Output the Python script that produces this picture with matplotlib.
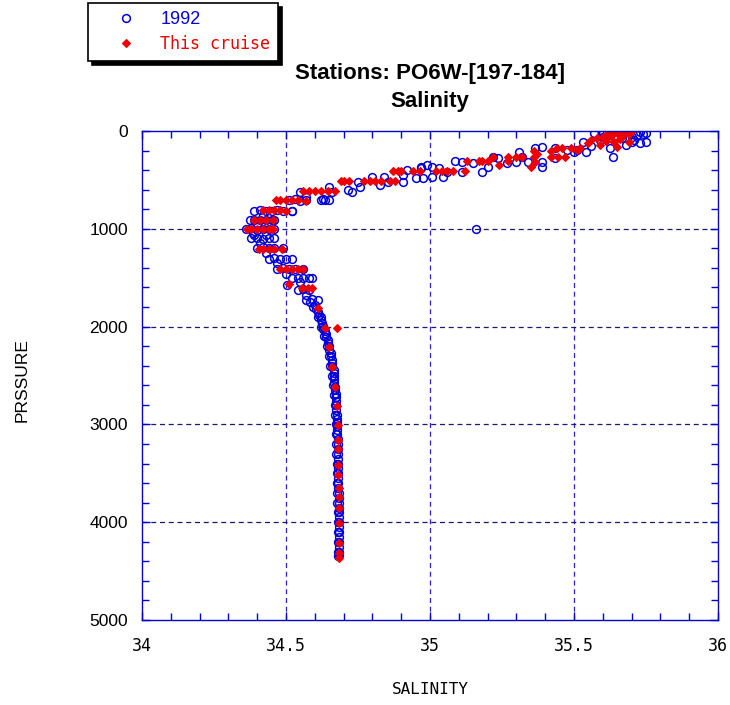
import matplotlib.pyplot as plt
from matplotlib.ticker import MultipleLocator

# 1992 occupation, upper ocean (pressure, salinity)
pres92_upper = [24, 24, 30, 41, 45, 50, 60, 75, 92, 92, 109, 109, 110, 126, 140, 150,
                177, 269, 211, 211, 194, 194, 177, 279, 160, 177, 314, 365,
                211, 262, 314, 314, 324, 279, 262, 365, 416, 331, 307, 314,
                416, 416, 375, 467, 365, 467, 365, 484, 382, 484, 348, 399,
                450, 518, 467, 518, 552, 467, 518, 569, 603, 620, 569, 620,
                705, 705, 672, 620, 815, 15, 35, 60, 20]
sal92_upper = [35.57, 35.75, 35.67, 35.72, 35.62, 35.64, 35.60, 35.666, 35.59, 35.71, 35.53, 35.75, 35.70, 35.73, 35.68, 35.56,
               35.625, 35.635, 35.50, 35.54, 35.475, 35.51, 35.434, 35.434, 35.39, 35.365, 35.39, 35.39,
               35.31, 35.32, 35.34, 35.30, 35.266, 35.236, 35.22, 35.20, 35.18, 35.15, 35.087, 35.11,
               35.11, 35.06, 35.03, 35.045, 35.006, 35.006, 34.97, 34.976, 34.97, 34.95, 34.99, 34.92,
               34.906, 34.906, 34.84, 34.855, 34.826, 34.80, 34.75, 34.757, 34.715, 34.73, 34.65, 34.66,
               34.62, 34.635, 34.57, 34.55, 34.52, 35.73, 35.74, 35.70, 35.60]

# 1992 occupation, intermediate water
pres92_mid = [706, 700, 712, 706, 698, 706,
              815, 808, 820, 815, 810, 818, 815,
              910, 905, 915, 910, 906, 912,
              1002, 996, 1008, 1002, 998, 1005,
              1060, 1066, 1097, 1092, 1100, 1097, 1094,
              1196, 1190, 1200, 1196, 1192,
              1308, 1300, 1312, 1308, 1304,
              1411, 1405, 1415, 1411, 1408,
              1503, 1498, 1506, 1503, 1500,
              1575, 1626, 1620, 1630, 1728, 1722, 1732, 1000,
              860, 955, 1040, 1150, 1250, 1350, 1460, 1540, 1680]
sal92_mid = [34.51, 34.53, 34.55, 34.57, 34.63, 34.65,
             34.39, 34.41, 34.43, 34.45, 34.47, 34.49, 34.52,
             34.375, 34.39, 34.41, 34.43, 34.45, 34.46,
             34.36, 34.38, 34.40, 34.42, 34.44, 34.46,
             34.39, 34.43, 34.38, 34.40, 34.42, 34.44, 34.46,
             34.40, 34.42, 34.44, 34.46, 34.49,
             34.44, 34.46, 34.48, 34.50, 34.52,
             34.47, 34.49, 34.51, 34.53, 34.56,
             34.52, 34.54, 34.56, 34.58, 34.59,
             34.505, 34.54, 34.56, 34.58, 34.57, 34.59, 34.61, 35.16,
             34.42, 34.40, 34.385, 34.41, 34.43, 34.47, 34.50, 34.55, 34.57]

# 1992 occupation, deep water
pres92_deep = [1750, 1780, 1820, 1850, 1880, 1900, 1930, 1960, 1990, 2020, 2050, 2080,
               2110, 2140, 2170, 2200, 2240, 2270, 2300, 2340, 2370, 2400, 2440, 2470,
               2500, 2540, 2580, 2620, 2650, 2690, 2720, 2760, 2800, 2850, 2900, 2940,
               2980, 3020, 3060, 3100, 3150, 3200, 3250, 3300, 3350, 3400, 3450, 3500,
               3550, 3600, 3650, 3700, 3750, 3800, 3850, 3900, 3950, 4000, 4050, 4100,
               4150, 4200, 4250, 4300, 4340,
               1800, 1900, 2000, 2100, 2200, 2300, 2400, 2500, 2600, 2700, 2800, 2900,
               3000, 3100, 3200, 3300, 3400, 3500, 3600, 3700, 3800, 3900, 4000, 4100,
               4200, 4300, 4350]
sal92_deep = [34.585, 34.60, 34.605, 34.61, 34.615, 34.62, 34.62, 34.625, 34.63, 34.63, 34.635, 34.64,
              34.64, 34.645, 34.645, 34.65, 34.65, 34.655, 34.655, 34.66, 34.66, 34.66, 34.665, 34.665,
              34.665, 34.667, 34.668, 34.67, 34.67, 34.672, 34.672, 34.674, 34.675, 34.675, 34.676, 34.676,
              34.677, 34.678, 34.678, 34.678, 34.679, 34.679, 34.68, 34.68, 34.68, 34.681, 34.681, 34.681,
              34.682, 34.682, 34.682, 34.683, 34.683, 34.683, 34.683, 34.684, 34.684, 34.684, 34.684, 34.684,
              34.685, 34.685, 34.685, 34.685, 34.685,
              34.595, 34.61, 34.622, 34.632, 34.642, 34.649, 34.654, 34.659, 34.663, 34.666, 34.669, 34.671,
              34.672, 34.673, 34.674, 34.675, 34.676, 34.677, 34.677, 34.678, 34.678, 34.679, 34.679, 34.68,
              34.68, 34.68, 34.68]

# this cruise, bottle data
pres_cr = [0, 0, 0, 0, 10, 25, 30, 40, 45, 55, 60, 75, 80, 92, 100, 109, 110, 120, 140, 160,
           170, 177, 170, 170, 194, 204, 204, 238, 262, 262, 262, 262, 262, 262, 262, 262,
           307, 307, 307, 307, 307, 314, 348, 365,
           406, 406, 406, 406, 406, 406, 406, 406, 406, 406,
           511, 511, 511, 511, 511, 511, 511, 511, 511,
           610, 610, 610, 610, 610, 610,
           710, 710, 710, 710, 710, 712,
           812, 812, 812, 812, 815,
           913, 913, 913, 913,
           1005, 1005, 1005, 1005, 1005, 1005,
           1210, 1210, 1210, 1210, 1210,
           1411, 1411, 1411, 1411, 1411,
           1568, 1608, 1608, 1608, 1812, 2013, 2011, 2206, 2410, 2614, 2809, 3006,
           3160, 3252, 3415, 3517, 3650, 3739, 3855, 4008, 4213, 4315, 4366]
sal_cr = [35.64, 35.66, 35.68, 35.70, 35.62, 35.65, 35.69, 35.61, 35.67, 35.63, 35.60, 35.58, 35.66, 35.56, 35.61, 35.69, 35.64, 35.55, 35.59, 35.65,
          35.49, 35.52, 35.46, 35.44, 35.51, 35.36, 35.42, 35.37, 35.22, 35.27, 35.30, 35.32, 35.36, 35.42, 35.445, 35.47,
          35.13, 35.17, 35.18, 35.20, 35.27, 35.365, 35.24, 35.35,
          34.87, 34.89, 34.90, 34.94, 34.965, 35.02, 35.04, 35.06, 35.08, 35.12,
          34.69, 34.70, 34.72, 34.77, 34.79, 34.81, 34.83, 34.86, 34.88,
          34.56, 34.58, 34.60, 34.62, 34.645, 34.67,
          34.465, 34.48, 34.50, 34.52, 34.54, 34.57,
          34.42, 34.44, 34.46, 34.48, 34.50,
          34.39, 34.41, 34.43, 34.455,
          34.365, 34.38, 34.40, 34.42, 34.44, 34.455,
          34.405, 34.42, 34.44, 34.46, 34.485,
          34.48, 34.50, 34.52, 34.54, 34.56,
          34.51, 34.555, 34.575, 34.59, 34.612, 34.635, 34.677, 34.65, 34.66, 34.67, 34.676, 34.68,
          34.68, 34.68, 34.682, 34.682, 34.683, 34.683, 34.683, 34.683, 34.684, 34.684, 34.684]

W, H = 730, 705
fig = plt.figure(figsize=(W / 100, H / 100), dpi=100)
ax = fig.add_axes([142 / W, 1 - 620 / H, 576 / W, 489 / H])

ax.plot(sal92_upper + sal92_mid + sal92_deep, pres92_upper + pres92_mid + pres92_deep,
        linestyle='none', marker='o', ms=5.6, mfc='none', mec='#0000dd', mew=1.1, label='1992')
ax.plot(sal_cr, pres_cr, linestyle='none', marker='D', ms=4.4, mfc='#ee0000', mec='#ee0000',
        mew=0.8, label='This cruise')

ax.set_xlim(34, 36)
ax.set_ylim(5000, 0)
ax.xaxis.set_major_locator(MultipleLocator(0.5))
ax.xaxis.set_minor_locator(MultipleLocator(0.1))
ax.yaxis.set_major_locator(MultipleLocator(1000))
ax.yaxis.set_minor_locator(MultipleLocator(200))
ax.set_xticks([34, 34.5, 35, 35.5, 36], ['34', '34.5', '35', '35.5', '36'])

blue = '#0000cc'
for s in ax.spines.values():
    s.set_color(blue)
    s.set_linewidth(1.0)
ax.tick_params(which='both', direction='in', top=True, right=True, color=blue, width=1)
ax.tick_params(which='major', length=6)
ax.tick_params(which='minor', length=5)
ax.tick_params(axis='x', which='major', pad=12)
ax.tick_params(axis='y', which='major', pad=10)
for lab in ax.get_xticklabels():
    lab.set_family('DejaVu Sans Mono')
    lab.set_fontsize(12)
for lab in ax.get_yticklabels():
    lab.set_family('Liberation Sans')
    lab.set_fontsize(12.5)

for x in (34.5, 35, 35.5):
    ax.axvline(x, color='#2222dd', lw=0.9, ls=(0, (4, 3)), zorder=0)
for y in (1000, 2000, 3000, 4000):
    ax.axhline(y, color='#1a1a70', lw=0.9, ls=(0, (4, 3)), zorder=0)

fig.text(430 / W, 1 - 690 / H, 'SALINITY', ha='center', va='center',
         family='DejaVu Sans Mono', fontsize=11.5)
fig.text(22 / W, 1 - 380 / H, 'PRSSURE', ha='center', va='center', rotation=90,
         family=['Liberation Sans Narrow', 'Liberation Sans'], fontsize=12.5)
fig.text(430 / W, 1 - 74 / H, 'Stations: PO6W-[197-184]', ha='center', va='center',
         family='Liberation Sans', fontweight='bold', fontsize=16)
fig.text(430 / W, 1 - 101 / H, 'Salinity', ha='center', va='center',
         family='Liberation Sans', fontweight='bold', fontsize=16)

leg = fig.legend(loc='upper left', bbox_to_anchor=(88 / W, 1 - 3 / H), borderaxespad=0,
                 fancybox=False, edgecolor='k', framealpha=1, fontsize=12,
                 handlelength=3.6, handletextpad=0.3, borderpad=0.45, labelspacing=0.45,
                 shadow={'ox': 3, 'oy': -3, 'color': 'k', 'alpha': 1})
leg.get_frame().set_linewidth(1.2)
t92, tcr = leg.get_texts()
t92.set_color('#0000ee')
t92.set_family('Liberation Sans')
t92.set_fontsize(13)
tcr.set_color('#ee0000')
tcr.set_family('DejaVu Sans Mono')
tcr.set_fontsize(12)

fig.savefig('out.png', dpi=100)
